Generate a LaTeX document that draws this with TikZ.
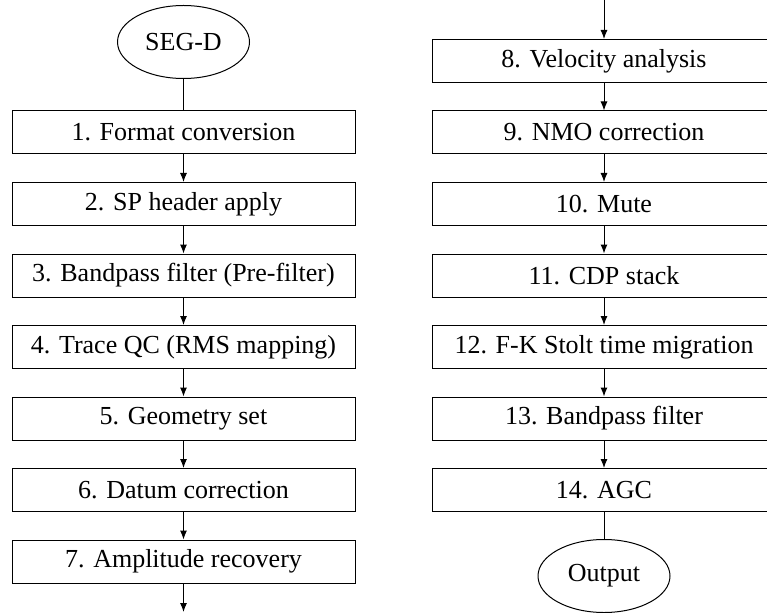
\documentclass[tikz,border=0pt]{standalone}
\usepackage{fontspec}
\setmainfont{Liberation Serif}
\usetikzlibrary{shapes.geometric,arrows.meta}
\begin{document}
\begin{tikzpicture}[x=1pt,y=-1pt,line width=1pt,
  proc/.style={draw, rectangle, minimum width=343pt, minimum height=43pt, inner sep=0pt, font=\fontsize{26}{30}\selectfont},
  term/.style={draw, ellipse, minimum width=132pt, minimum height=73pt, inner sep=0pt, font=\fontsize{26}{30}\selectfont},
  flow/.style={-{Latex[length=9pt,width=7pt]}}]
\clip (0,0) rectangle (767,612);
\fill[white] (0,0) rectangle (767,612);
% left column
\node[term] (segd) at (183.5,42) {SEG-D};
\node[proc] (b1) at (183.5,132.5) {1. Format conversion};
\node[proc] (b2) at (183.5,204) {2. SP header apply};
\node[proc] (b3) at (183.5,275.5) {3. Bandpass filter (Pre-filter)};
\node[proc] (b4) at (183.5,347) {4. Trace QC (RMS mapping)};
\node[proc] (b5) at (183.5,418.5) {5. Geometry set};
\node[proc] (b6) at (183.5,490) {6. Datum correction};
\node[proc] (b7) at (183.5,561.5) {7. Amplitude recovery};
\coordinate (lend) at (183.5,612);
% right column
\coordinate (rstart) at (604,0);
\node[proc, minimum width=344pt] (b8) at (604,61) {8. Velocity analysis};
\node[proc, minimum width=344pt] (b9) at (604,132.5) {9. NMO correction};
\node[proc, minimum width=344pt] (b10) at (604,204) {10. Mute};
\node[proc, minimum width=344pt] (b11) at (604,275.5) {11. CDP stack};
\node[proc, minimum width=344pt] (b12) at (604,347) {12. F-K Stolt time migration};
\node[proc, minimum width=344pt] (b13) at (604,418.5) {13. Bandpass filter};
\node[proc, minimum width=344pt] (b14) at (604,490) {14. AGC};
\node[term] (out) at (604,576) {Output};
% connectors
\draw (segd) -- (b1);
\draw[flow] (b1) -- (b2);
\draw[flow] (b2) -- (b3);
\draw[flow] (b3) -- (b4);
\draw[flow] (b4) -- (b5);
\draw[flow] (b5) -- (b6);
\draw[flow] (b6) -- (b7);
\draw[flow] (b7.south) -- (lend);
\draw[flow] (rstart) -- (b8.north);
\draw[flow] (b8) -- (b9);
\draw[flow] (b9) -- (b10);
\draw[flow] (b10) -- (b11);
\draw[flow] (b11) -- (b12);
\draw[flow] (b12) -- (b13);
\draw[flow] (b13) -- (b14);
\draw (b14) -- (out);
\end{tikzpicture}
\end{document}
